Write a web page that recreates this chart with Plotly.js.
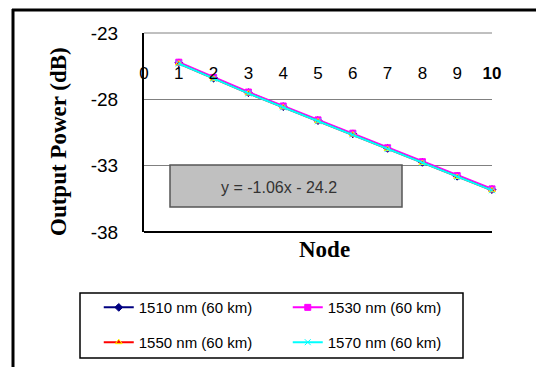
<!DOCTYPE html>
<html><head><meta charset="utf-8">
<script src="https://cdn.plot.ly/plotly-3.0.1.min.js"></script>
<style>html,body{margin:0;padding:0;background:#fff}#c{width:536px;height:367px}</style>
</head><body><div id="c"></div>
<script>
var nodes = [1,2,3,4,5,6,7,8,9,10];
var p1510 = [-25.25,-26.4,-27.5,-28.55,-29.6,-30.6,-31.7,-32.75,-33.8,-34.8];
var p1530 = [-25.2,-26.35,-27.45,-28.5,-29.55,-30.55,-31.65,-32.7,-33.75,-34.75];
var p1550 = [-25.3,-26.45,-27.55,-28.6,-29.65,-30.65,-31.75,-32.8,-33.85,-34.85];
var p1570 = [-25.3,-26.45,-27.55,-28.6,-29.65,-30.65,-31.75,-32.8,-33.85,-34.85];
var names = ['1510 nm (60 km)','1530 nm (60 km)','1550 nm (60 km)','1570 nm (60 km)'];
var xTickVals = [0,1,2,3,4,5,6,7,8,9,10];
var xTickText = ['0','1','2','3','4','5','6','7','8','9','<b>10</b>'];
var yTickVals = [-38,-33,-28,-23];
var yTickText = ['-38','-33','-28','-23'];
var trendText = 'y = -1.06x - 24.2';

function tr(y, name, color, sym, mcolor, mline, leg){
  return {x:nodes, y:y, name:name, type:'scatter', mode:'lines+markers',
    line:{color:color, width:2}, cliponaxis:false, legend:leg,
    marker:{symbol:sym, size:6, color:mcolor, line:{color:mline, width:1}}};
}
var data = [
  tr(p1510, names[0], '#000080', 'diamond', '#000080', '#000080', 'legend'),
  tr(p1530, names[1], '#ff00ff', 'square', '#ff00ff', '#ff00ff', 'legend'),
  tr(p1550, names[2], '#ff0000', 'triangle-up', '#ff0000', '#ffff00', 'legend2'),
  tr(p1570, names[3], '#00ffff', 'x-thin-open', '#00ffff', '#00ffff', 'legend2')
];
var legCommon = {orientation:'h', xanchor:'left', yanchor:'middle', entrywidth:144, entrywidthmode:'pixels',
  font:{family:'Liberation Sans, Arial', size:15, color:'#000'}, bgcolor:'rgba(0,0,0,0)', borderwidth:0, itemwidth:30};
var layout = {
  width:536, height:367,
  margin:{l:144, r:44, t:33, b:135, autoexpand:false},
  paper_bgcolor:'#fff', plot_bgcolor:'#fff',
  showlegend:true,
  legend: Object.assign({x:-0.13, y:-0.38}, legCommon),
  legend2: Object.assign({x:-0.13, y:-0.555}, legCommon),
  xaxis:{range:[0,10], tickvals:xTickVals, ticktext:xTickText, showgrid:false, zeroline:false,
    showline:false, ticks:'', anchor:'free', position:0.86,
    tickfont:{family:'Liberation Sans, Arial', size:17, color:'#000'},
    title:{text:''}},
  yaxis:{range:[-38,-23], tickvals:yTickVals, ticktext:yTickText, showgrid:true, gridcolor:'#808080', gridwidth:1,
    zeroline:false, showline:true, linecolor:'#000', linewidth:2, ticks:'', ticklabelstandoff:20,
    tickfont:{family:'Liberation Sans, Arial', size:19, color:'#000'},
    title:{text:''}},
  shapes:[
    {type:'line', xref:'paper', yref:'paper', x0:0, x1:1, y0:0, y1:0, line:{color:'#000', width:2}},
    {type:'line', xref:'paper', yref:'paper', x0:0, x1:1, y0:1, y1:1, line:{color:'#808080', width:1}},
    {type:'rect', xref:'paper', yref:'paper', x0:(170-144)/348, x1:(402-144)/348, y0:(232-207)/199, y1:(232-165)/199,
      fillcolor:'#c0c0c0', line:{color:'#555', width:1.5}, layer:'above'},
    {type:'rect', xref:'paper', yref:'paper', x0:(80-144)/348, x1:(463-144)/348, y0:(232-358)/199, y1:(232-293)/199,
      fillcolor:'rgba(0,0,0,0)', line:{color:'#000', width:1.5}},
    {type:'line', xref:'paper', yref:'paper', x0:(13-144)/348, x1:(13-144)/348, y0:(232-9)/199, y1:(232-380)/199, line:{color:'#000', width:3}},
    {type:'line', xref:'paper', yref:'paper', x0:(12-144)/348, x1:(560-144)/348, y0:(232-10)/199, y1:(232-10)/199, line:{color:'#000', width:3}}
  ],
  annotations:[
    {text:trendText, xref:'paper', yref:'paper', x:(279-144)/348, y:(232-187)/199, xanchor:'center', yanchor:'middle', showarrow:false,
      font:{family:'Liberation Sans, Arial', size:16, color:'#333'}},
    {text:'<b>Node</b>', xref:'paper', yref:'paper', x:(324-144)/348, y:(232-249)/199, xanchor:'center', yanchor:'middle', showarrow:false,
      font:{family:'Liberation Serif, Times New Roman', size:23, color:'#000'}},
    {text:'<b>Output Power (dB)</b>', xref:'paper', yref:'paper', x:(58-144)/348, y:(232-142)/199, xanchor:'center', yanchor:'middle', textangle:-90, showarrow:false,
      font:{family:'Liberation Serif, Times New Roman', size:23, color:'#000'}}
  ]
};
Plotly.newPlot('c', data, layout, {displayModeBar:false, staticPlot:true});
</script></body></html>
